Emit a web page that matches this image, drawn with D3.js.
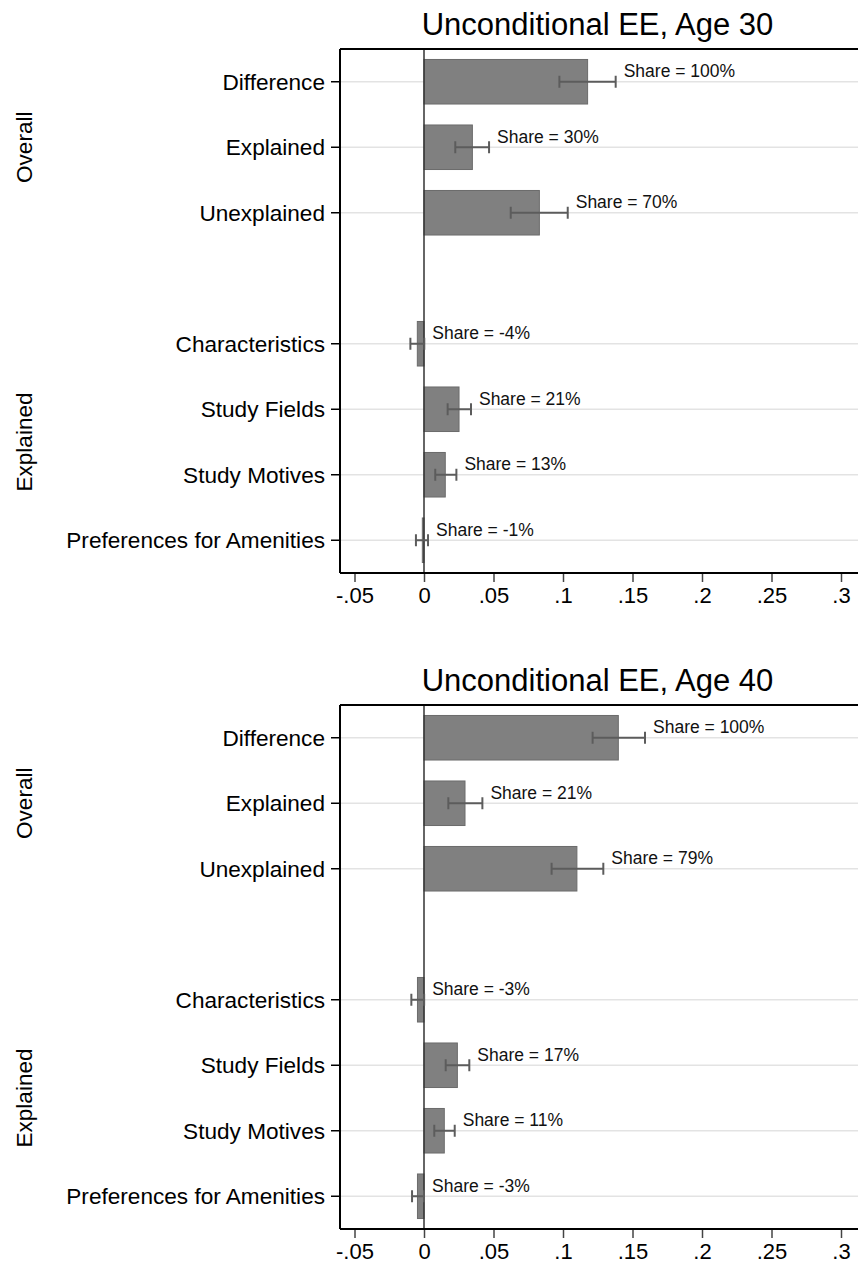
<!DOCTYPE html>
<html>
<head>
<meta charset="utf-8">
<script src="https://cdn.jsdelivr.net/npm/d3@7"></script>
<style>
  body { margin: 0; background: #fff; }
  svg { display: block; font-family: "Liberation Sans", Arial, Helvetica, sans-serif; }
</style>
</head>
<body>
<svg id="chart" width="858" height="1264"></svg>
<script>
// categories, top to bottom; slot 3 is the empty gap between groups
const categories = ["Difference", "Explained", "Unexplained", "Characteristics", "Study Fields", "Study Motives", "Preferences for Amenities"];
const slots = [0, 1, 2, 4, 5, 6, 7];
const groupNames = ["Overall", "Explained"];
const groupMembers = [[0, 1, 2], [3, 4, 5, 6]];
const xTicks = [-0.05, 0, 0.05, 0.1, 0.15, 0.2, 0.25, 0.3];

const titles = ["Unconditional EE, Age 30", "Unconditional EE, Age 40"];

// Age 30
const est30 = [0.1177, 0.0348, 0.0830, -0.0048, 0.0252, 0.0153, -0.0012];
const lo30  = [0.0974, 0.0225, 0.0624, -0.0098, 0.0170, 0.0081, -0.0058];
const hi30  = [0.1379, 0.0468, 0.1034,  0.0002, 0.0338, 0.0233,  0.0029];
const share30 = [100, 30, 70, -4, 21, 13, -1];

// Age 40
const est40 = [0.1398, 0.0295, 0.1100, -0.0047, 0.0240, 0.0146, -0.0047];
const lo40  = [0.1213, 0.0175, 0.0918, -0.0091, 0.0156, 0.0074, -0.0086];
const hi40  = [0.1590, 0.0420, 0.1290,  0.0001, 0.0326, 0.0221,  0.0000];
const share40 = [100, 21, 79, -3, 17, 11, -3];

const panels = [
  { title: titles[0], est: est30, lo: lo30, hi: hi30, share: share30, top: 49 },
  { title: titles[1], est: est40, lo: lo40, hi: hi40, share: share40, top: 705 }
];

const svg = d3.select("#chart");
const plotLeft = 340, plotRight = 858, plotH = 524;

const x = d3.scaleLinear().domain([-0.05, 0.3]).range([354.5, 841]);
// stata style: no leading zero, plain hyphen
const fmt = (v) => v === 0 ? "0" : String(+v.toFixed(2)).replace("0.", ".");

panels.forEach((p) => {
  const g = svg.append("g");
  const y = d3.scaleBand()
    .domain(d3.range(8))
    .range([p.top, p.top + plotH])
    .padding(0);
  const cy = (i) => y(slots[i]) + y.bandwidth() / 2;
  const barH = y.bandwidth() * 0.68;

  const rows = categories.map((c, i) => ({
    name: c, est: p.est[i], lo: p.lo[i], hi: p.hi[i], share: p.share[i], i
  }));

  // title
  g.append("text")
    .attr("x", 597.5)
    .attr("y", p.top - 14)
    .attr("text-anchor", "middle")
    .attr("font-size", 31)
    .attr("fill", "#000")
    .text(p.title);

  // grid lines
  g.selectAll(".grid").data(rows).join("line")
    .attr("x1", plotLeft).attr("x2", plotRight)
    .attr("y1", (d) => cy(d.i)).attr("y2", (d) => cy(d.i))
    .attr("stroke", "#e3e3e3").attr("stroke-width", 1.5);

  // bars
  g.selectAll(".bar").data(rows).join("rect")
    .attr("x", (d) => x(Math.min(0, d.est)))
    .attr("width", (d) => Math.abs(x(d.est) - x(0)))
    .attr("y", (d) => cy(d.i) - barH / 2)
    .attr("height", barH)
    .attr("fill", "#808080")
    .attr("stroke", "#6b6b6b")
    .attr("stroke-width", 1);

  // zero line
  g.append("line")
    .attr("x1", x(0)).attr("x2", x(0))
    .attr("y1", p.top).attr("y2", p.top + plotH)
    .attr("stroke", "#333").attr("stroke-width", 1.5);

  // error bars
  const eb = g.selectAll(".eb").data(rows).join("g").attr("stroke", "#5c5c5c").attr("stroke-width", 2);
  eb.append("line")
    .attr("x1", (d) => x(d.lo)).attr("x2", (d) => x(d.hi))
    .attr("y1", (d) => cy(d.i)).attr("y2", (d) => cy(d.i));
  eb.append("line")
    .attr("x1", (d) => x(d.lo)).attr("x2", (d) => x(d.lo))
    .attr("y1", (d) => cy(d.i) - 6).attr("y2", (d) => cy(d.i) + 6);
  eb.append("line")
    .attr("x1", (d) => x(d.hi)).attr("x2", (d) => x(d.hi))
    .attr("y1", (d) => cy(d.i) - 6).attr("y2", (d) => cy(d.i) + 6);

  // share labels
  g.selectAll(".lab").data(rows).join("text")
    .attr("x", (d) => x(Math.max(d.hi, 0)) + 8)
    .attr("y", (d) => cy(d.i) - 4.5)
    .attr("font-size", 17.5)
    .attr("fill", "#111")
    .text((d) => `Share = ${d.share}%`);

  // frame: left and top
  g.append("line")
    .attr("x1", plotLeft).attr("x2", plotLeft)
    .attr("y1", p.top).attr("y2", p.top + plotH)
    .attr("stroke", "#000").attr("stroke-width", 2);
  g.append("line")
    .attr("x1", plotLeft).attr("x2", plotRight)
    .attr("y1", p.top).attr("y2", p.top)
    .attr("stroke", "#000").attr("stroke-width", 2);

  // y ticks + category labels
  g.selectAll(".ytick").data(rows).join("line")
    .attr("x1", plotLeft - 9).attr("x2", plotLeft)
    .attr("y1", (d) => cy(d.i)).attr("y2", (d) => cy(d.i))
    .attr("stroke", "#000").attr("stroke-width", 1.5);
  g.selectAll(".ylab").data(rows).join("text")
    .attr("x", plotLeft - 15)
    .attr("y", (d) => cy(d.i))
    .attr("dy", "0.36em")
    .attr("text-anchor", "end")
    .attr("font-size", 22.6)
    .attr("fill", "#000")
    .text((d) => d.name);

  // group labels
  groupNames.forEach((name, k) => {
    const ids = groupMembers[k];
    const mid = (cy(ids[0]) + cy(ids[ids.length - 1])) / 2;
    g.append("text")
      .attr("transform", `translate(32,${mid}) rotate(-90)`)
      .attr("text-anchor", "middle")
      .attr("font-size", 22.6)
      .attr("fill", "#000")
      .text(name);
  });

  // x axis
  const ax = g.append("g")
    .attr("transform", `translate(0,${p.top + plotH})`)
    .call(d3.axisBottom(x).tickValues(xTicks).tickFormat(fmt).tickSize(9).tickPadding(5).tickSizeOuter(0));
  ax.select(".domain").remove();
  ax.selectAll(".tick line").attr("stroke", "#444").attr("stroke-width", 1.5);
  ax.selectAll(".tick text").attr("font-size", 22).attr("fill", "#000")
    .attr("font-family", "'Liberation Sans', Arial, sans-serif");
  g.append("line")
    .attr("x1", plotLeft).attr("x2", plotRight)
    .attr("y1", p.top + plotH).attr("y2", p.top + plotH)
    .attr("stroke", "#000").attr("stroke-width", 2);
});
</script>
</body>
</html>
